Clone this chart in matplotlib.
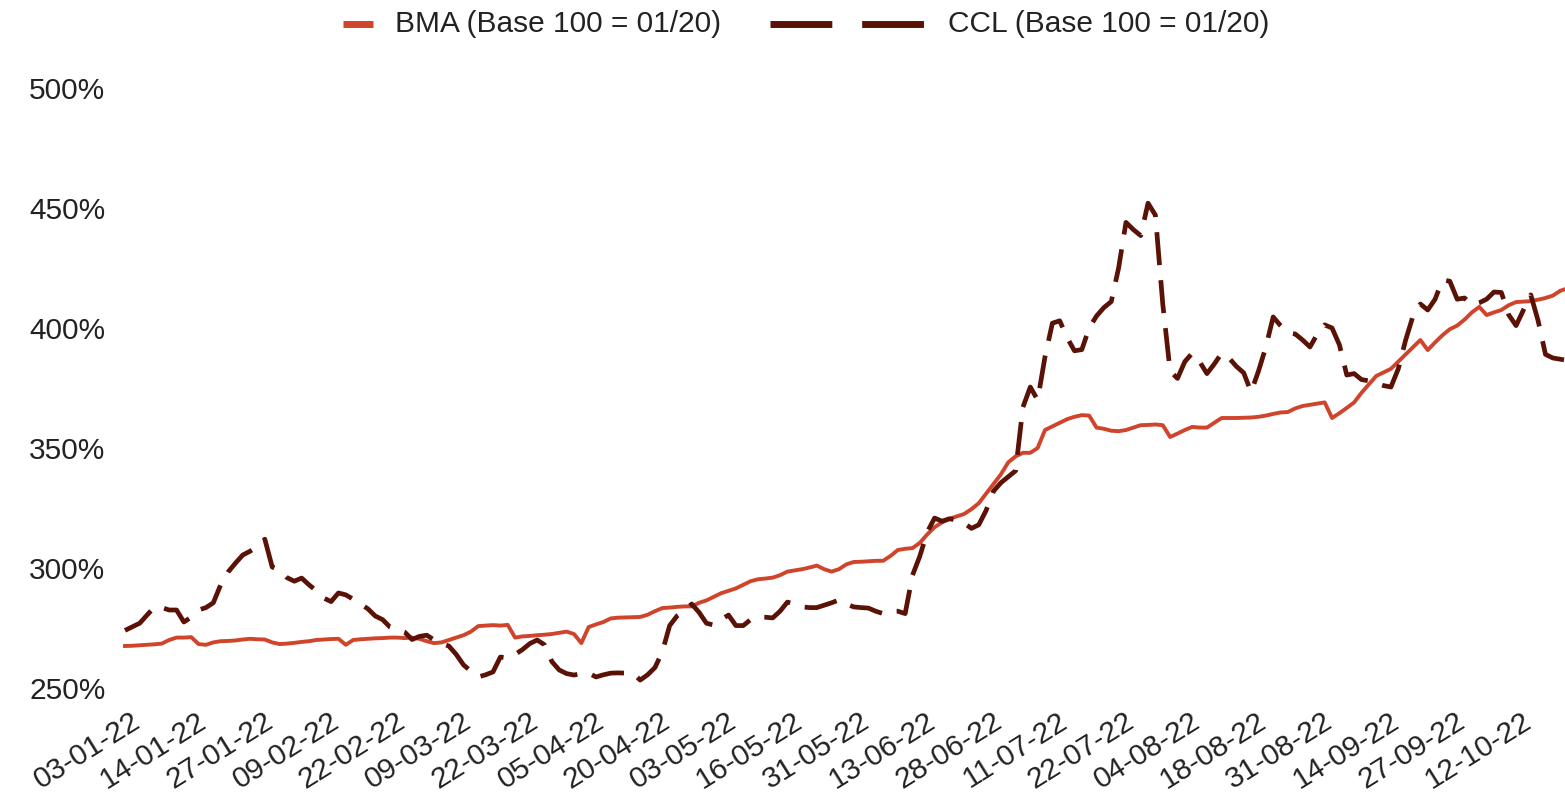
import matplotlib
matplotlib.use("Agg")
import matplotlib.pyplot as plt
from matplotlib.lines import Line2D
from matplotlib.transforms import ScaledTranslation

plt.rcParams['font.family'] = ['Liberation Sans', 'DejaVu Sans']

# one row per x-axis label interval (9 trading days)
bma = [
    267.5, 267.6, 267.8, 268.0, 268.2, 268.5, 270.0, 271.0, 271.0,  # 03-01-22
    271.2, 268.3, 268.0, 269.0, 269.5, 269.6, 269.8, 270.2, 270.5,  # 14-01-22
    270.3, 270.2, 269.0, 268.3, 268.5, 268.8, 269.2, 269.5, 270.0,  # 27-01-22
    270.2, 270.4, 270.5, 268.0, 270.0, 270.3, 270.5, 270.7, 270.8,  # 09-02-22
    271.0, 271.0, 270.8, 271.0, 270.5, 269.5, 268.7, 269.0, 270.0,  # 22-02-22
    271.0, 272.0, 273.5, 275.8, 276.0, 276.2, 276.0, 276.3, 271.0,  # 09-03-22
    271.5, 271.7, 272.0, 272.2, 272.5, 273.0, 273.5, 272.5, 268.7,  # 22-03-22
    275.4, 276.5, 277.5, 279.0, 279.3, 279.4, 279.5, 279.6, 280.5,  # 05-04-22
    282.0, 283.3, 283.5, 283.8, 284.0, 284.0, 285.5, 286.5, 288.0,  # 20-04-22
    289.5, 290.5, 291.5, 293.0, 294.5, 295.3, 295.6, 296.0, 297.0,  # 03-05-22
    298.5, 299.0, 299.5, 300.2, 301.0, 299.5, 298.5, 299.5, 301.5,  # 16-05-22
    302.5, 302.6, 302.8, 303.0, 303.0, 305.0, 307.5, 308.0, 308.3,  # 31-05-22
    310.5, 314.0, 317.0, 319.0, 320.5, 321.5, 322.5, 324.5, 327.0,  # 13-06-22
    331.0, 335.0, 339.0, 344.0, 346.5, 348.0, 348.0, 350.0, 357.5,  # 28-06-22
    359.0, 360.5, 362.0, 363.0, 363.7, 363.5, 358.5, 358.0, 357.2,  # 11-07-22
    357.0, 357.5, 358.5, 359.5, 359.6, 359.8, 359.5, 354.6, 356.0,  # 22-07-22
    357.5, 358.8, 358.5, 358.5, 360.5, 362.5, 362.5, 362.5, 362.6,  # 04-08-22
    362.7, 363.0, 363.5, 364.2, 364.8, 365.0, 366.5, 367.5, 368.0,  # 18-08-22
    368.5, 369.0, 362.5, 364.5, 366.7, 369.0, 373.0, 376.5, 380.0,  # 31-08-22
    381.5, 383.0, 386.0, 389.0, 392.0, 395.0, 390.8, 394.0, 397.0,  # 14-09-22
    399.5, 401.0, 403.5, 406.5, 408.8, 405.4, 406.5, 407.5, 409.5,  # 27-09-22
    410.8, 411.0, 411.2, 411.8, 412.5, 413.5, 415.5, 416.5,         # 12-10-22
]

ccl = [
    274.0, 275.5, 277.0, 280.4, 283.8, 283.5, 282.5, 282.5, 277.5,
    279.5, 282.5, 283.5, 285.5, 293.0, 298.3, 302.0, 305.4, 307.0,
    309.0, 312.0, 300.4, 299.2, 296.0, 294.5, 295.8, 293.0, 290.5,
    287.5, 286.0, 289.6, 288.8, 287.0, 285.0, 283.0, 280.0, 278.5,
    275.4, 274.3, 273.3, 270.2, 271.5, 272.0, 270.0, 268.5, 267.5,
    264.0, 259.6, 257.0, 254.6, 255.5, 256.7, 262.9, 262.5, 264.0,
    266.0, 268.5, 270.0, 268.0, 261.0, 257.5, 256.0, 255.4, 256.0,
    256.2, 254.6, 255.5, 256.2, 256.3, 256.2, 256.2, 253.3, 255.5,
    258.5, 265.0, 276.0, 280.0, 282.0, 285.0, 281.5, 277.0, 276.2,
    278.5, 280.4, 276.0, 276.0, 278.5, 279.6, 279.5, 279.2, 282.0,
    285.8, 285.0, 283.8, 283.5, 283.5, 284.5, 285.5, 286.7, 285.0,
    283.8, 283.5, 283.3, 282.0, 281.0, 282.0, 282.0, 281.0, 297.0,
    305.0, 315.0, 320.8, 319.5, 320.5, 320.0, 318.8, 316.5, 318.0,
    324.0, 332.0, 335.5, 338.0, 340.5, 367.0, 375.4, 370.0, 388.0,
    402.0, 403.0, 396.0, 390.5, 391.0, 400.0, 405.0, 408.5, 411.0,
    425.0, 444.0, 441.0, 438.5, 452.0, 447.0, 410.0, 382.0, 379.0,
    386.0, 389.5, 386.0, 381.0, 385.0, 389.5, 387.5, 384.0, 381.3,
    373.3, 382.0, 392.0, 404.6, 401.0, 398.0, 397.5, 395.0, 392.1,
    397.5, 401.3, 400.0, 393.0, 380.4, 381.0, 378.5, 378.0, 377.0,
    376.0, 375.4, 383.0, 395.0, 405.0, 410.0, 407.5, 412.0, 420.0,
    419.5, 412.0, 412.5, 409.6, 410.5, 412.0, 415.0, 414.8, 405.5,
    401.0, 407.5, 413.8, 403.0, 389.0, 387.5, 387.0, 386.5,
]

tick_labels = ["03-01-22", "14-01-22", "27-01-22", "09-02-22", "22-02-22",
               "09-03-22", "22-03-22", "05-04-22", "20-04-22", "03-05-22",
               "16-05-22", "31-05-22", "13-06-22", "28-06-22", "11-07-22",
               "22-07-22", "04-08-22", "18-08-22", "31-08-22", "14-09-22",
               "27-09-22", "12-10-22"]
tick_step = 9
y_ticks = [250, 300, 350, 400, 450, 500]

bma_color = "#d0442c"
ccl_color = "#5a1207"
text_color = "#222222"
fs = 21.5

W, H = 1565, 796
fig = plt.figure(figsize=(W / 100, H / 100), dpi=100)
ax = fig.add_axes([118 / W, 108 / H, (W - 118) / W, 600 / H])

x = list(range(len(bma)))
ax.plot(x, bma, color=bma_color, lw=2.8, solid_joinstyle="round", zorder=2)
ax.plot(x, ccl, color=ccl_color, lw=3.4, ls=(0, (7, 3.2)),
        dash_capstyle="butt", dash_joinstyle="round", zorder=3)

ax.set_xlim(-0.95, 195.65)
ax.set_ylim(250, 500)

ax.set_yticks(y_ticks)
ax.set_yticklabels([f"{v}%" for v in y_ticks])
ax.set_xticks(list(range(0, tick_step * len(tick_labels), tick_step)))
ax.set_xticklabels(tick_labels, rotation=32, ha="right", va="center",
                   rotation_mode="anchor")
ax.tick_params(axis="both", length=0, labelsize=fs, labelcolor=text_color)
ax.tick_params(axis="y", pad=9)
ax.tick_params(axis="x", pad=22)
for lab in ax.get_xticklabels():
    lab.set_transform(lab.get_transform() +
                      ScaledTranslation(0.13, 0, fig.dpi_scale_trans))

for s in ax.spines.values():
    s.set_visible(False)

# legend drawn by hand (short swatch for BMA, two dashes for CCL)
ly = 1 - 24 / H
fig.add_artist(Line2D([343 / W, 373 / W], [ly, ly], lw=5, color=bma_color,
                      solid_capstyle="butt", transform=fig.transFigure))
fig.text(395 / W, ly, "BMA (Base 100 = 01/20)", fontsize=fs,
         color=text_color, va="center", ha="left")
fig.add_artist(Line2D([770 / W, 925 / W], [ly, ly], lw=5, color=ccl_color,
                      ls=(0, (8.9, 4.3)), dash_capstyle="butt",
                      transform=fig.transFigure))
fig.text(948 / W, ly, "CCL (Base 100 = 01/20)", fontsize=fs,
         color=text_color, va="center", ha="left")

fig.savefig("out.png", dpi=100)
